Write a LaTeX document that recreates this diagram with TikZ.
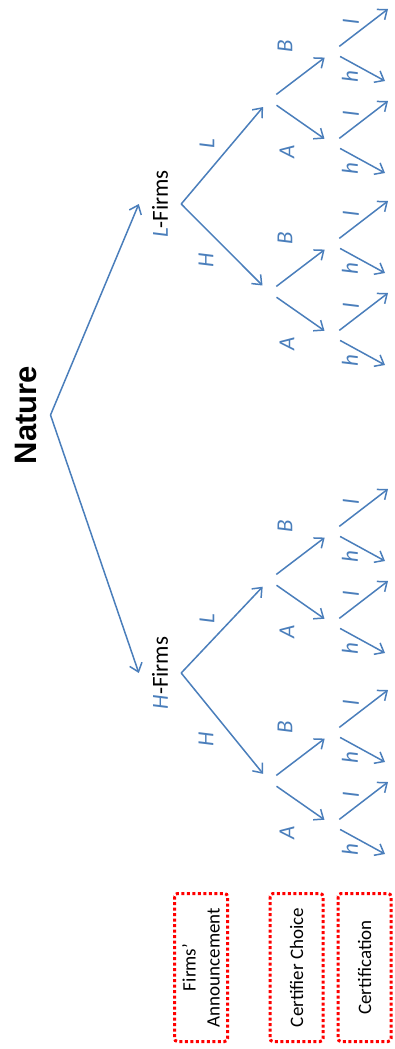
\documentclass[tikz,border=0pt]{standalone}
\usepackage{fontspec}
\setmainfont{Carlito}
\newfontfamily\headfont{Liberation Sans}
\usetikzlibrary{arrows.meta, calc}
\definecolor{treeblue}{HTML}{4A7EBB}
\definecolor{stagered}{HTML}{FF0000}
\tikzset{
  >={Straight Barb[length=8pt, width=13pt]},
  branch/.style={->, line width=1.5pt, draw=treeblue},
  dec/.style={circle, minimum size=18pt, inner sep=0pt},
  player/.style={rotate=90, inner sep=13pt, font=\fontsize{23}{27}\selectfont},
  act/.style={rotate=90, text=treeblue, font=\fontsize{23}{27}\selectfont\itshape},
  stage/.style={rotate=90, draw=stagered, line width=3pt, dash pattern=on 3pt off 2.5pt,
                rounded corners=3pt, minimum width=148pt, minimum height=53pt,
                align=center, font=\fontsize{19}{24}\selectfont},
}
\newcommand{\mv}[1]{\textcolor{treeblue}{\itshape #1}}

\begin{document}
\begin{tikzpicture}[x=1pt, y=-1pt]
  \useasboundingbox (0,0) rectangle (394,1049);
  \node[rotate=90, inner sep=14pt, font=\headfont\bfseries\fontsize{31}{36}\selectfont] (nature) at (25.5,415) {Nature};
  \node[player] (lf) at (160,204) {\mv{L}-Firms};
  \node[player] (hf) at (160,673) {\mv{H}-Firms};
  \draw[branch] (nature.south) -- (lf.north);
  \draw[branch] (nature.south) -- (hf.north);
  % announcement -> certifier choice -> certification
  \foreach \firm/\ly/\hy in {lf/100/292, hf/580/781} {
    \node[dec] (\firm L) at (269,\ly) {};
    \node[dec] (\firm H) at (269,\hy) {};
    \draw[branch] (\firm.south) -- (\firm H);
    \draw[branch] (\firm.south) -- (\firm L);
    \node[act] at ($(\firm.south)!.5!(\firm H)+(-19,12)$) {H};
    \node[act] at ($(\firm.south)!.5!(\firm L)+(-18,-8)$) {L};
    \foreach \side in {L,H} {
      \node[dec] (\firm\side B) at ($(\firm\side)+(63,-48)$) {};
      \node[dec] (\firm\side A) at ($(\firm\side)+(63,44)$) {};
      \draw[branch] (\firm\side) -- (\firm\side B);
      \draw[branch] (\firm\side) -- (\firm\side A);
      \node[act] at ($(\firm\side)+(16,-54)$) {B};
      \node[act] at ($(\firm\side)+(18,52)$) {A};
      \foreach \cert in {A,B} {
        \coordinate (\firm\side\cert l) at ($(\firm\side\cert)+(56,-43)$);
        \coordinate (\firm\side\cert h) at ($(\firm\side\cert)+(53,29)$);
        \draw[branch] (\firm\side\cert) -- (\firm\side\cert l);
        \draw[branch] (\firm\side\cert) -- (\firm\side\cert h);
        \node[act] at ($(\firm\side\cert)+(19,-30)$) {l};
        \node[act] at ($(\firm\side\cert)+(18,25)$) {h};
      }
    }
  }
  \node[stage] (ann) at (201,967.5) {Firms’\\Announcement};
  \node[stage] (cho) at (296.5,967.5) {Certifier Choice};
  \node[stage] (cer) at (364.5,967.5) {Certification};
\end{tikzpicture}
\end{document}
